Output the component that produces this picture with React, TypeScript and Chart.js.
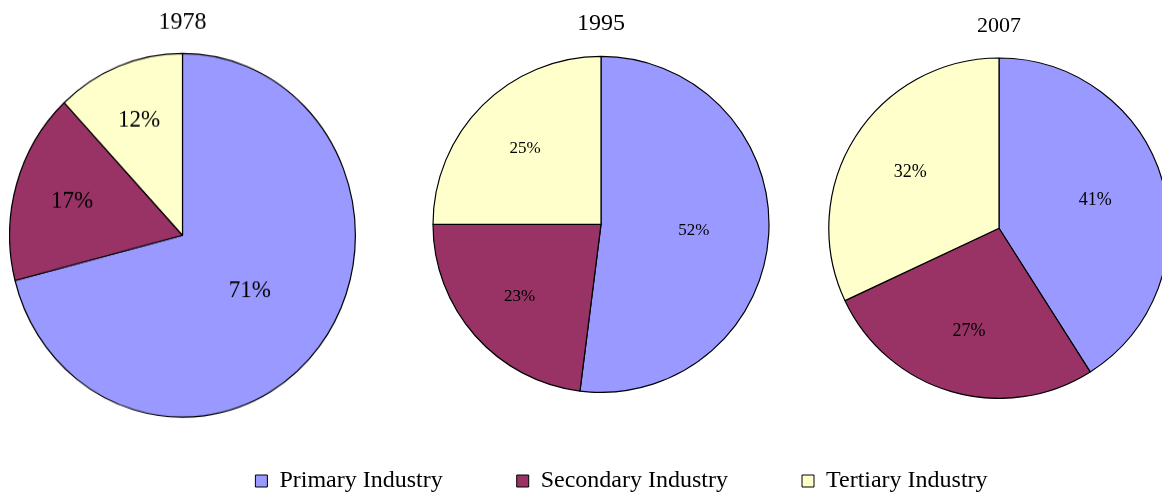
import React, { useEffect, useRef } from "react";
import { Chart, registerables } from "chart.js";

Chart.register(...registerables);

// ---- data ----
const categories = ["Primary Industry", "Secondary Industry", "Tertiary Industry"];
const years = ["1978", "1995", "2007"];
const values1978 = [71, 17, 12];
const values1995 = [52, 23, 25];
const values2007 = [41, 27, 32];
const sliceColors = ["#9999FF", "#993366", "#FFFFCC"];

const SERIF = "'Times New Roman', 'Liberation Serif', serif";
Chart.defaults.font.family = SERIF;

// ---- layout (positions / sizes only) ----
const pieLayouts = [
  { values: values1978, title: years[0], left: 9, top: 0, width: 347, height: 409, titleSize: 24, padTop: 18, padBottom: 14.7, labelSize: 23, scaleY: 1.052, originY: 235 },
  { values: values1995, title: years[1], left: 432, top: 0, width: 338, height: 393, titleSize: 24, padTop: 9, padBottom: 18, labelSize: 17, scaleY: 1, originY: 0 },
  { values: values2007, title: years[2], left: 828, top: 0, width: 342, height: 399, titleSize: 22, padTop: 13, padBottom: 18, labelSize: 18, scaleY: 1, originY: 0 },
];
const legendLayout = { left: 81, top: 395, width: 1081, height: 216 };

const pctLabels = {
  id: "pctLabels",
  afterDatasetsDraw(chart: any, _args: any, opts: any) {
    const { ctx } = chart;
    const meta = chart.getDatasetMeta(0);
    const data = chart.data.datasets[0].data as number[];
    const total = data.reduce((a, b) => a + b, 0);
    ctx.save();
    ctx.font = `${opts.size}px ${SERIF}`;
    ctx.fillStyle = "#000";
    ctx.textAlign = "center";
    ctx.textBaseline = "middle";
    meta.data.forEach((arc: any, i: number) => {
      const p = arc.getProps(["x", "y", "startAngle", "endAngle", "outerRadius"], true);
      const mid = (p.startAngle + p.endAngle) / 2;
      const share = data[i] / total;
      const r = p.outerRadius * (0.72 - 0.32 * share);
      ctx.fillText(`${data[i]}%`, p.x + Math.cos(mid) * r, p.y + Math.sin(mid) * r);
    });
    ctx.restore();
  },
};

const hideArcs = { id: "hideArcs", beforeDatasetsDraw: () => false };

export default function App() {
  const pieRefs = useRef<(HTMLCanvasElement | null)[]>([]);
  const legendRef = useRef<HTMLCanvasElement | null>(null);

  useEffect(() => {
    const charts: Chart[] = [];
    pieLayouts.forEach((L, idx) => {
      const cv = pieRefs.current[idx];
      if (!cv) return;
      charts.push(
        new Chart(cv, {
          type: "pie",
          data: {
            labels: categories,
            datasets: [
              {
                data: L.values,
                backgroundColor: sliceColors,
                borderColor: "#000000",
                borderWidth: 1.2,
              },
            ],
          },
          options: {
            animation: false,
            responsive: false,
            events: [],
            layout: { padding: 0 },
            plugins: {
              legend: { display: false },
              tooltip: { enabled: false },
              title: {
                display: true,
                text: L.title,
                color: "#000",
                font: { family: SERIF, size: L.titleSize, weight: "normal" },
                padding: { top: L.padTop, bottom: L.padBottom },
              },
              pctLabels: { size: L.labelSize },
            } as any,
          },
          plugins: [pctLabels],
        })
      );
    });
    if (legendRef.current) {
      charts.push(
        new Chart(legendRef.current, {
          type: "pie",
          data: {
            labels: categories,
            datasets: [
              {
                data: values1978,
                backgroundColor: sliceColors,
                borderColor: "#000000",
                borderWidth: 1,
              },
            ],
          },
          options: {
            animation: false,
            responsive: false,
            events: [],
            layout: { padding: 0 },
            plugins: {
              tooltip: { enabled: false },
              legend: {
                display: true,
                position: "top",
                labels: {
                  boxWidth: 12,
                  boxHeight: 12,
                  padding: 74,
                  color: "#000",
                  font: { family: SERIF, size: 24 },
                },
              },
            },
          },
          plugins: [hideArcs],
        })
      );
    }
    return () => charts.forEach((c) => c.destroy());
  }, []);

  return (
    <div
      style={{
        position: "absolute",
        left: 0,
        top: 0,
        width: 1162,
        height: 495,
        overflow: "hidden",
        background: "#ffffff",
      }}
    >
      <canvas
        ref={legendRef}
        width={legendLayout.width}
        height={legendLayout.height}
        style={{ position: "absolute", left: legendLayout.left, top: legendLayout.top }}
      />
      {pieLayouts.map((L, i) => (
        <div
          key={L.title}
          style={{
            position: "absolute",
            left: L.left,
            top: L.top,
            width: L.width,
            height: L.height,
            transform: `scale(1, ${L.scaleY})`,
            transformOrigin: `50% ${L.originY}px`,
          }}
        >
          <canvas
            ref={(el) => {
              pieRefs.current[i] = el;
            }}
            width={L.width}
            height={L.height}
            style={{ display: "block" }}
          />
        </div>
      ))}
    </div>
  );
}
